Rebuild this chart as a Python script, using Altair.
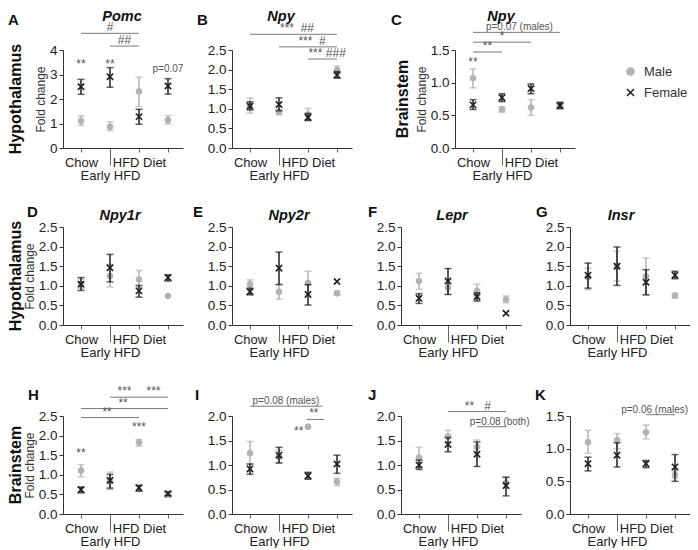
import altair as alt
import pandas as pd

# ---------------- data ----------------
POS = [1, 2, 3, 4]
SEXES = ["Male", "Female"]

A_MALE, A_MALE_LO, A_MALE_HI = [1.11, 0.87, 2.31, 1.14], [0.93, 0.71, 1.69, 0.98], [1.31, 1.07, 2.89, 1.32]
A_FEM, A_FEM_LO, A_FEM_HI = [2.50, 2.91, 1.28, 2.53], [2.19, 2.48, 0.97, 2.20], [2.80, 3.28, 1.58, 2.83]

B_MALE, B_MALE_LO, B_MALE_HI = [1.07, 0.92, 0.85, 1.99], [0.89, 0.85, 0.72, 1.89], [1.27, 0.99, 1.01, 2.09]
B_FEM, B_FEM_LO, B_FEM_HI = [1.07, 1.11, 0.78, 1.86], [0.97, 0.95, 0.70, 1.78], [1.18, 1.28, 0.88, 1.95]

C_MALE, C_MALE_LO, C_MALE_HI = [1.07, 0.59, 0.62, 0.65], [0.92, 0.55, 0.50, 0.61], [1.21, 0.63, 0.74, 0.69]
C_FEM, C_FEM_LO, C_FEM_HI = [0.66, 0.77, 0.91, 0.65], [0.59, 0.71, 0.83, 0.60], [0.74, 0.83, 0.98, 0.70]

D_MALE, D_MALE_LO, D_MALE_HI = [1.05, 1.25, 1.16, 0.74], [0.93, 0.97, 0.97, 0.74], [1.17, 1.55, 1.39, 0.74]
D_FEM, D_FEM_LO, D_FEM_HI = [1.04, 1.46, 0.87, 1.21], [0.88, 1.10, 0.71, 1.12], [1.21, 1.80, 1.01, 1.28]

E_MALE, E_MALE_LO, E_MALE_HI = [1.04, 0.85, 1.07, 0.81], [0.93, 0.66, 0.77, 0.76], [1.15, 1.04, 1.37, 0.86]
E_FEM, E_FEM_LO, E_FEM_HI = [0.85, 1.45, 0.78, 1.11], [0.77, 1.03, 0.51, 1.11], [0.94, 1.86, 1.03, 1.11]

F_MALE, F_MALE_LO, F_MALE_HI = [1.12, 0.95, 0.87, 0.65], [0.91, 0.78, 0.72, 0.57], [1.32, 1.12, 1.04, 0.74]
F_FEM, F_FEM_LO, F_FEM_HI = [0.68, 1.12, 0.72, 0.30], [0.55, 0.78, 0.61, 0.30], [0.80, 1.44, 0.82, 0.30]

G_MALE, G_MALE_LO, G_MALE_HI = [1.22, 1.50, 1.24, 0.75], [0.90, 1.12, 0.77, 0.69], [1.45, 1.88, 1.71, 0.81]
G_FEM, G_FEM_LO, G_FEM_HI = [1.27, 1.50, 1.09, 1.27], [0.94, 1.01, 0.77, 1.18], [1.58, 1.99, 1.41, 1.37]

H_MALE, H_MALE_LO, H_MALE_HI = [1.11, 0.83, 1.83, 0.49], [0.95, 0.62, 1.73, 0.43], [1.26, 1.07, 1.90, 0.55]
H_FEM, H_FEM_LO, H_FEM_HI = [0.62, 0.86, 0.67, 0.52], [0.54, 0.66, 0.58, 0.47], [0.69, 1.01, 0.73, 0.57]

I_MALE, I_MALE_LO, I_MALE_HI = [1.24, 1.17, 1.78, 0.66], [1.02, 1.05, 1.78, 0.58], [1.48, 1.30, 1.78, 0.73]
I_FEM, I_FEM_LO, I_FEM_HI = [0.92, 1.20, 0.78, 1.02], [0.81, 1.04, 0.71, 0.83], [1.02, 1.36, 0.85, 1.20]

J_MALE, J_MALE_LO, J_MALE_HI = [1.15, 1.58, 1.37, 0.64], [0.95, 1.45, 1.22, 0.53], [1.36, 1.71, 1.51, 0.75]
J_FEM, J_FEM_LO, J_FEM_HI = [1.00, 1.42, 1.22, 0.58], [0.91, 1.27, 0.97, 0.37], [1.10, 1.56, 1.47, 0.75]

K_MALE, K_MALE_LO, K_MALE_HI = [1.10, 1.13, 1.25, 0.60], [0.93, 1.00, 1.15, 0.55], [1.28, 1.23, 1.36, 0.66]
K_FEM, K_FEM_LO, K_FEM_HI = [0.77, 0.90, 0.77, 0.72], [0.66, 0.72, 0.71, 0.50], [0.87, 1.09, 0.82, 0.91]

# significance brackets: [x from, x to, y, label, label x]
A_BRACKETS = [[1, 3, 4.68, "#", 2.0], [2, 3, 4.16, "##", 2.5]]
B_BRACKETS = [[1, 4, 2.90, "***\u00a0\u00a0##", 2.62], [2, 4, 2.58, "***\u00a0\u00a0#", 3.14],
              [3, 4, 2.27, "***\u00a0###", 3.66]]
C_BRACKETS = [[1, 2, 1.47, "**", 1.5], [1, 3, 1.62, "*", 2.0], [1, 4, 1.77, "p=0.07 (males)", 2.6]]
H_BRACKETS = [[1, 3, 2.46, "**", 1.9], [1, 4, 2.69, "**", 2.45], [2, 3, 2.98, "***", 2.5],
              [3, 4, 2.98, "***", 3.5]]
I_BRACKETS = [[2.95, 3.55, 1.93, "**", 3.2], [1, 3.5, 2.20, "p=0.08 (males)", 2.24]]
J_BRACKETS = [[2, 4, 2.09, "**\u00a0\u00a0\u00a0#", 3.03], [3, 4, 1.78, "p=0.08 (both)", 3.78]]
K_BRACKETS = [[3, 4, 1.52, "p=0.06 (males)", 3.3]]

# standalone marks: [label, x, y]
A_NOTES = [["**", 1, 3.25], ["**", 2, 3.25], ["p=0.07", 4, 3.09]]
C_NOTES = [["**", 1, 1.255]]
H_NOTES = [["**", 1, 1.455], ["***", 3, 2.13]]
I_NOTES = [["**", 2.68, 1.62]]

# ---------------- style ----------------
W, H = 120, 98
STEP = 29.0
X0 = 1 - 18 / STEP
XDOM = [X0, X0 + W / STEP]
GRAY = "#b3b3b3"
BLACK = "#1e1e1e"
NOTE = "#555555"
LINE = "#7a7a7a"
FONT = "Liberation Sans"
CROSS = "M-1,-1L1,1M-1,1L1,-1"

LEG = alt.Legend(orient="none", legendX=561, legendY=15, title=None, padding=0,
                 labelFontSize=13, labelColor="#333333", labelFont=FONT, symbolSize=50,
                 symbolStrokeWidth=1.5, rowPadding=6, labelOffset=7)
FILL_SC = alt.Scale(domain=SEXES, range=[GRAY, "transparent"])
STROKE_SC = alt.Scale(domain=SEXES, range=[GRAY, BLACK])
SHAPE_SC = alt.Scale(domain=SEXES, range=["circle", CROSS])

XLABEL_EXPR = ("datum.value == 1 ? 'Chow' : datum.value == 3 ? 'HFD Diet' : "
               "datum.value == 2 ? 'Early HFD' : ''")


def panel(letter, ldx, ldy, title, tdx, tdy, rowlab, rdx, ytitle, ymax, yvals, yfmt,
          male, male_lo, male_hi, fem, fem_lo, fem_hi, brackets=None, notes=None):
    upp = ymax / H
    xsc = alt.Scale(domain=XDOM, nice=False, zero=False)
    ysc = alt.Scale(domain=[0, ymax], nice=False, zero=True)
    xax = alt.Axis(values=POS, labelExpr=XLABEL_EXPR, title=None, grid=False,
                   domainColor="#333333", tickColor="#666666",
                   tickSize={"condition": {"test": "datum.value == 2", "value": 17}, "value": 4},
                   labelFontSize=13, labelFont=FONT, labelColor="#222222", labelPadding=4,
                   labelOverlap=False, labelFlush=False, labelBound=False)
    yax = alt.Axis(values=yvals, format=yfmt, title=("Fold change" if ytitle else None), grid=False,
                   domainColor="#333333", tickColor="#333333", tickSize=4,
                   labelFontSize=13.5, labelFont=FONT, labelColor="#222222", labelPadding=2,
                   labelFlush=False, titleFont=FONT, titleFontSize=12, titleFontWeight="normal",
                   titleColor="#333333", titlePadding=2)

    def X(f):
        return alt.X(f, type="quantitative", scale=xsc, axis=xax)

    def Y(f):
        return alt.Y(f, type="quantitative", scale=ysc, axis=yax)

    layers = []
    for sex, mean, lo, hi, col, size, sw in [("Male", male, male_lo, male_hi, GRAY, 34, 1),
                                             ("Female", fem, fem_lo, fem_hi, BLACK, 40, 1.6)]:
        df = pd.DataFrame({"x": POS, "sex": sex, "mean": mean, "lo": lo, "hi": hi})
        base = alt.Chart(df)
        layers.append(base.mark_rule(color=col, strokeWidth=1.5).encode(x=X("x"), y=Y("lo"), y2="hi"))
        caps = base.transform_filter("datum.hi > datum.lo")
        layers.append(caps.mark_tick(orient="horizontal", color=col, size=7, thickness=1.5)
                      .encode(x=X("x"), y=Y("lo")))
        layers.append(caps.mark_tick(orient="horizontal", color=col, size=7, thickness=1.5)
                      .encode(x=X("x"), y=Y("hi")))
        layers.append(base.mark_point(size=size, strokeWidth=sw, opacity=1).encode(
            x=X("x"), y=Y("mean"),
            fill=alt.Fill("sex:N", scale=FILL_SC, legend=LEG),
            stroke=alt.Stroke("sex:N", scale=STROKE_SC, legend=LEG),
            shape=alt.Shape("sex:N", scale=SHAPE_SC, legend=LEG)))

    fsize = alt.condition("indexof(datum.label, 'p=') >= 0", alt.value(10), alt.value(12))
    if brackets:
        bdf = pd.DataFrame(brackets, columns=["x", "x2", "y", "label", "lx"])
        layers.append(alt.Chart(bdf).mark_rule(color=LINE, strokeWidth=1)
                      .encode(x=X("x"), x2="x2", y=Y("y")))
        layers.append(alt.Chart(bdf).mark_text(baseline="alphabetic", dy=-2, color=NOTE, font=FONT)
                      .encode(x=X("lx"), y=Y("y"), text="label:N", size=fsize))
    if notes:
        ndf = pd.DataFrame(notes, columns=["label", "x", "y"])
        layers.append(alt.Chart(ndf).mark_text(baseline="alphabetic", color=NOTE, font=FONT)
                      .encode(x=X("x"), y=Y("y"), text="label:N", size=fsize))

    ldf = pd.DataFrame({"x": [X0 + ldx / STEP], "y": [ymax + ldy * upp], "t": [letter]})
    layers.append(alt.Chart(ldf).mark_text(align="left", baseline="top", fontSize=15, fontWeight="bold",
                                           font=FONT, color="#111111")
                  .encode(x=X("x"), y=Y("y"), text="t:N"))
    if title:
        tdf = pd.DataFrame({"x": [X0 + tdx / STEP], "y": [ymax + tdy * upp], "t": [title]})
        layers.append(alt.Chart(tdf).mark_text(align="center", baseline="top", fontSize=14.5,
                                               fontWeight="bold", fontStyle="italic", font=FONT,
                                               color="#111111")
                      .encode(x=X("x"), y=Y("y"), text="t:N"))
    if rowlab:
        rdf = pd.DataFrame({"x": [X0 + rdx / STEP], "y": [ymax / 2], "t": [rowlab]})
        layers.append(alt.Chart(rdf).mark_text(align="center", baseline="middle", angle=270,
                                               fontSize=16, fontWeight="bold", font=FONT,
                                               color="#111111")
                      .encode(x=X("x"), y=Y("y"), text="t:N"))
    return alt.layer(*layers).properties(width=W, height=H)


def spacer(w, h):
    return (alt.Chart(pd.DataFrame({"a": [0]})).mark_point(size=1, opacity=0)
            .encode(x=alt.value(w / 2), y=alt.value(h / 2)).properties(width=w, height=h))


Y25 = [0, 0.5, 1.0, 1.5, 2.0, 2.5]
Y20 = [0, 0.5, 1.0, 1.5, 2.0]
Y15 = [0, 0.5, 1.0, 1.5]

pA = panel("A", -55, 37, "Pomc", 59, 40, "Hypothalamus", -47, True, 4, [0, 1, 2, 3, 4], "d",
           A_MALE, A_MALE_LO, A_MALE_HI, A_FEM, A_FEM_LO, A_FEM_HI, A_BRACKETS, A_NOTES)
pB = panel("B", -35, 37, "Npy", 49, 40, None, 0, False, 2.5, Y25, ".1f",
           B_MALE, B_MALE_LO, B_MALE_HI, B_FEM, B_FEM_LO, B_FEM_HI, B_BRACKETS)
pC = panel("C", -64, 37, "Npy", 46, 40, "Brainstem", -52, True, 1.5, Y15, ".1f",
           C_MALE, C_MALE_LO, C_MALE_HI, C_FEM, C_FEM_LO, C_FEM_HI, C_BRACKETS, C_NOTES)
pD = panel("D", -36, 22, "Npy1r", 57, 18, "Hypothalamus", -47, True, 2.5, Y25, ".1f",
           D_MALE, D_MALE_LO, D_MALE_HI, D_FEM, D_FEM_LO, D_FEM_HI)
pE = panel("E", -39, 22, "Npy2r", 57, 18, None, 0, False, 2.5, Y25, ".1f",
           E_MALE, E_MALE_LO, E_MALE_HI, E_FEM, E_FEM_LO, E_FEM_HI)
pF = panel("F", -33, 22, "Lepr", 51, 18, None, 0, False, 2.5, Y25, ".1f",
           F_MALE, F_MALE_LO, F_MALE_HI, F_FEM, F_FEM_LO, F_FEM_HI)
pG = panel("G", -34, 22, "Insr", 51, 18, None, 0, False, 2.5, Y25, ".1f",
           G_MALE, G_MALE_LO, G_MALE_HI, G_FEM, G_FEM_LO, G_FEM_HI)
pH = panel("H", -35, 28, None, 0, 0, "Brainstem", -47, True, 2.5, Y25, ".1f",
           H_MALE, H_MALE_LO, H_MALE_HI, H_FEM, H_FEM_LO, H_FEM_HI, H_BRACKETS, H_NOTES)
pI = panel("I", -37, 28, None, 0, 0, None, 0, False, 2.0, Y20, ".1f",
           I_MALE, I_MALE_LO, I_MALE_HI, I_FEM, I_FEM_LO, I_FEM_HI, I_BRACKETS, I_NOTES)
pJ = panel("J", -33, 28, None, 0, 0, None, 0, False, 2.0, Y20, ".1f",
           J_MALE, J_MALE_LO, J_MALE_HI, J_FEM, J_FEM_LO, J_FEM_HI, J_BRACKETS)
pK = panel("K", -35, 28, None, 0, 0, None, 0, False, 1.5, Y15, ".1f",
           K_MALE, K_MALE_LO, K_MALE_HI, K_FEM, K_FEM_LO, K_FEM_HI, K_BRACKETS)

row1 = alt.hconcat(pA, pB, spacer(5, H), pC, spacing=49, bounds="flush")
row2 = alt.hconcat(pD, pE, pF, pG, spacing=49, bounds="flush")
row3 = alt.hconcat(pH, pI, pJ, pK, spacing=49, bounds="flush")

top_rows = alt.vconcat(row1, row2, spacing=22)
chart = (alt.vconcat(top_rows, row3, spacing=26)
         .properties(padding=0).configure_view(stroke=None))

chart.save("out.html", embed_options={"renderer": "svg", "actions": False})
